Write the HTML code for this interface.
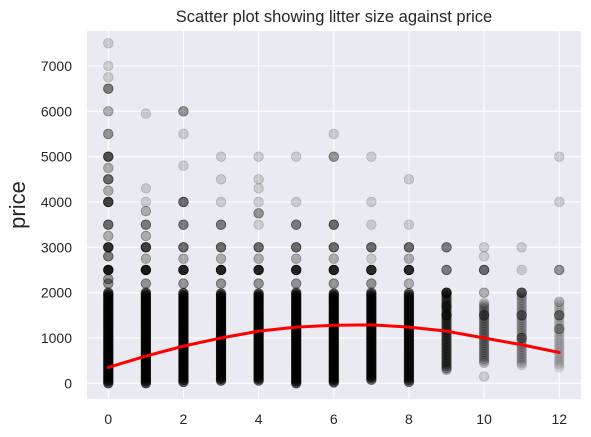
<!DOCTYPE html>
<html><head><meta charset="utf-8"><style>
html,body{margin:0;padding:0;background:#fff;}
svg{display:block;font-family:"Liberation Sans",sans-serif;}
</style></head><body>
<svg id="chart" width="591" height="437">
<rect x="87" y="31" width="494" height="368" fill="#eaeaf2"/>
<g id="grid"></g><g id="points"></g><g id="fit"></g><g id="ticks"></g>
<text x="334" y="22" text-anchor="middle" font-size="16.5" fill="#262626">Scatter plot showing litter size against price</text>
<text transform="translate(25,205) rotate(-90)" text-anchor="middle" font-size="22" fill="#262626">price</text>
</svg>
<script>
const xTicks=[0,2,4,6,8,10,12];
const yTicks=[0,1000,2000,3000,4000,5000,6000,7000];
const litters=[0,1,2,3,4,5,6,7,8,9,10,11,12];
const coreLow=[0,0,30,60,60,0,20,80,30,300,450,400,350];
const coreHigh=[2000,2000,2000,2000,2000,2000,2000,2000,2000,2000,1800,2000,1800];
const coreAlpha=[0.6,0.6,0.6,0.6,0.6,0.6,0.6,0.55,0.5,0.3,0.18,0.12,0.08];
// outliers: [litter, price, weight]
const outX=[0,0,0,0,0,0,0,0,0,0,0,0,0,0,0,0,0,0, 1,1,1,1,1,1,1,1, 2,2,2,2,2,2,2, 3,3,3,3,3,3, 4,4,4,4,4,4,4,4, 5,5,5,5,5, 6,6,6,6,6, 7,7,7,7,7, 8,8,8,8, 9,9,9,9,9, 10,10,10,10,10,10, 11,11,11,11,11, 12,12,12,12,12,12, 1,2,3,4,5,6,7,8, 1,2,3,4,5,6,7,8];
const outY=[2200,2500,2800,3000,3250,3500,4000,4250,4500,4750,5000,5500,6000,6500,6750,7000,7500,2300, 2500,3000,3250,3500,3800,4000,4300,5950, 2500,3000,3500,4000,4800,5500,6000, 2500,3000,3500,4000,4500,5000, 2500,3000,3500,3750,4000,4300,4500,5000, 2500,3000,3500,4000,5000, 2500,3000,3500,5000,5500, 2500,3000,3500,4000,5000, 2500,3000,3500,4500, 2000,2500,3000,1700,1500, 150,2000,2500,2800,3000,1500, 2000,2500,3000,1500,1000, 1500,2500,4000,5000,1800,1200, 2200,2200,2200,2200,2200,2200,2200,2200, 2750,2750,2750,2750,2750,2750,2750,2750];
const outW=[3,14,4,10,2,5,8,2,5,2,7,3,2,4,1,1,1,3, 14,8,2,4,2,1,1,1, 12,5,4,5,1,1,3, 12,5,4,1,1,1, 12,5,1,3,1,1,1,1, 12,5,4,1,1, 12,5,5,3,1, 11,5,1,1,1, 11,5,1,1, 8,4,4,3,4, 1,2,5,1,1,3, 5,1,1,3,3, 3,3,1,1,1,2, 3,3,3,3,3,3,3,2, 2,2,2,2,2,2,1,2];
const fitY=[350,600,820,1000,1150,1240,1280,1290,1240,1150,1000,850,680];

const NS="http://www.w3.org/2000/svg";
const X=v=>108.3+v*37.58;
const Y=v=>383.3-v*0.04533;
const grid=document.getElementById('grid'),ticks=document.getElementById('ticks'),pts=document.getElementById('points'),fit=document.getElementById('fit');
function mk(tag,attrs,parent){const e=document.createElementNS(NS,tag);for(const k in attrs)e.setAttribute(k,attrs[k]);parent.appendChild(e);return e;}
xTicks.forEach(t=>{
 const l=mk('line',{x1:X(t),x2:X(t),y1:31,y2:399,stroke:'#fff','stroke-width':1.1},grid);
 
 
 const tx=mk('text',{x:X(t),y:424,'text-anchor':'middle','font-size':14,fill:'#262626'},ticks);
 tx.textContent=t;
 
 
});
yTicks.forEach(t=>{
 const l=mk('line',{x1:87,x2:581,y1:Y(t),y2:Y(t),stroke:'#fff','stroke-width':1.1},grid);
 
 
 const tx=mk('text',{x:72,y:Y(t)+5,'text-anchor':'end','font-size':14,fill:'#262626'},ticks);
 tx.textContent=t;
 
 
});
litters.forEach((L,i)=>{
 for(let p=coreLow[i];p<=coreHigh[i];p+=40){
  const c=mk('circle',{cx:X(L),cy:Y(p),r:4.8,fill:'#000','fill-opacity':coreAlpha[i],stroke:'#000','stroke-opacity':coreAlpha[i],'stroke-width':0.8},pts);
  
  
 }
});
outX.forEach((L,i)=>{
 const w=outW[i];
 const a=1-Math.pow(0.85,w);
 const c=mk('circle',{cx:X(L),cy:Y(outY[i]),r:4.8,fill:'#000','fill-opacity':a,stroke:'#000','stroke-opacity':Math.min(1,a*1.2),'stroke-width':0.8},pts);
 
 
});
const d=litters.map((L,i)=>(i?'L':'M')+X(L)+' '+Y(fitY[i])).join(' ');
const path=mk('path',{d:d,fill:'none',stroke:'#ff0000','stroke-width':3,'stroke-linejoin':'round','stroke-linecap':'round'},fit);


</script>
</body></html>
